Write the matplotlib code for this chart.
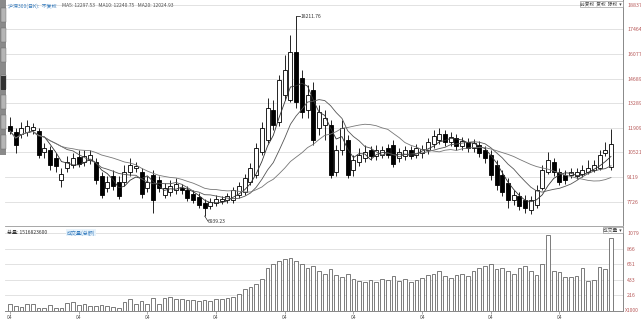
import matplotlib
matplotlib.use('Agg')
import matplotlib.pyplot as plt
import numpy as np
import pandas as pd

plt.rcParams['font.family'] = ['Noto Sans CJK SC', 'DejaVu Sans']

# daily prices
opens = [12013, 11674, 11561, 11674, 11787, 11731, 10546, 10659, 10208, 8967,
         9644, 9813, 10264, 9982, 10095, 9982, 9193, 8516, 9193, 8854,
         8854, 9418, 9644, 9418, 8516, 9249, 8967, 8121, 8290, 8403,
         8516, 8403, 8177, 8008, 7670, 7501, 7670, 7783, 7839, 7839,
         8121, 8290, 8854, 9249, 10546, 11223, 12915, 12238, 13761, 13479,
         16186, 14720, 12915, 14043, 11900, 12069, 12069, 9418, 10659, 11223,
         9531, 9982, 10208, 10659, 10321, 10377, 10772, 10941, 10208, 10321,
         10659, 10377, 10490, 10659, 10997, 11223, 11561, 11110, 11336, 10885,
         11110, 10772, 10941, 10659, 10377, 9813, 9249, 8798, 7839, 8065,
         7839, 7275, 7557, 8516, 9418, 9982, 9418, 9249, 9249, 9193,
         9305, 9418, 9531, 9644, 10490, 9700]
closes = [11731, 10941, 11900, 12013, 11956, 10377, 10772, 9813, 9757, 9305,
          9982, 10208, 9869, 10321, 10377, 8967, 8121, 8854, 8629, 8065,
          9418, 9813, 9757, 8177, 8854, 7839, 8516, 8516, 8629, 8741,
          8403, 7952, 7839, 7557, 7388, 7726, 7895, 7895, 8065, 8403,
          8629, 9080, 9644, 10772, 11900, 13028, 12069, 14607, 15171, 16186,
          13366, 12802, 13761, 11223, 12802, 12464, 9249, 10659, 11900, 9249,
          10095, 10377, 10546, 10321, 10659, 10659, 10377, 9869, 10546, 10659,
          10321, 10772, 10715, 11110, 11449, 11561, 11110, 11392, 10885, 11167,
          10772, 11054, 10490, 10208, 9249, 8685, 8290, 7839, 8121, 7501,
          7388, 7839, 8403, 9531, 10095, 9418, 8854, 8967, 9418, 9418,
          9531, 9644, 9813, 10377, 10659, 10997]
highs = [12520, 11900, 12238, 12351, 12182, 11900, 11054, 10885, 10490, 9644,
         10321, 10490, 10659, 10659, 10659, 10208, 9418, 9193, 9531, 9193,
         9813, 10208, 9982, 9644, 9193, 9531, 9193, 8798, 8967, 9080,
         8741, 8629, 8403, 8234, 7895, 7952, 8121, 8065, 8234, 8572,
         8854, 9305, 9926, 11054, 12238, 13592, 13479, 14889, 16017, 17145,
         18211.76, 15171, 14325, 14494, 13197, 12915, 12351, 10941, 12351, 11505,
         10377, 10772, 10941, 10885, 10941, 10885, 10997, 11223, 10772, 10885,
         10885, 10997, 10941, 11336, 11787, 11900, 11787, 11674, 11561, 11392,
         11336, 11279, 11167, 10885, 10659, 10095, 9531, 9080, 8403, 8290,
         8121, 8065, 8685, 9813, 10546, 10208, 9644, 9531, 9644, 9644,
         9813, 10095, 10095, 10659, 11110, 11843]
lows = [11561, 10490, 11336, 11449, 11561, 10208, 10208, 9531, 9418, 8572,
        9418, 9644, 9700, 9757, 9869, 8741, 7952, 8290, 8403, 7895,
        8629, 9193, 9418, 7952, 8290, 7106, 8290, 7952, 8065, 8177,
        8177, 7783, 7670, 7388, 6939.23, 7331, 7501, 7613, 7670, 7670,
        7952, 8121, 8685, 9080, 10377, 11054, 11787, 12013, 13479, 13366,
        13028, 12464, 12464, 10941, 11505, 11223, 9080, 9193, 10377, 9080,
        9193, 9757, 9982, 10095, 10095, 10208, 10208, 9700, 9982, 10095,
        10151, 10208, 10208, 10433, 10772, 10997, 10885, 10885, 10659, 10659,
        10546, 10546, 10264, 9926, 8967, 8403, 8065, 7388, 7557, 7275,
        7106, 7049, 7388, 8403, 9305, 9193, 8685, 8741, 9080, 9023,
        9136, 9305, 9418, 9531, 10321, 9531]
# volume, x1000
volumes = [95, 71, 57, 95, 95, 38, 38, 81, 38, 36,
           114, 123, 85, 95, 76, 71, 81, 66, 57, 47,
           128, 170, 95, 142, 104, 180, 104, 180, 194, 161,
           166, 151, 151, 142, 150, 140, 160, 170, 180, 200,
           240, 300, 330, 380, 450, 600, 650, 700, 720, 740,
           700, 650, 600, 620, 560, 520, 580, 500, 470, 520,
           450, 420, 400, 430, 410, 450, 430, 480, 420, 440,
           400, 430, 460, 500, 520, 550, 480, 460, 500, 520,
           480, 550, 600, 620, 650, 580, 600, 560, 520, 600,
           620, 560, 500, 650, 1060, 560, 544, 473, 473, 484,
           596, 412, 426, 615, 582, 1022]

price_ticks = [7726, 9119, 10521, 11909, 13289, 14689, 16077, 17464, 18837]
vol_ticks = [216, 433, 651, 866, 1079]
x_tick_pos = [0, 12, 24, 36, 48, 60, 72, 84, 96]
x_tick_labels = ['04'] * 9

df = pd.DataFrame({'open': opens, 'close': closes, 'high': highs, 'low': lows, 'vol': volumes})
x = np.arange(len(df))
ma5 = df['close'].rolling(5, min_periods=1).mean()
ma10 = df['close'].rolling(10, min_periods=1).mean()
ma20 = df['close'].rolling(20, min_periods=1).mean()

W, H = 641, 319
fig = plt.figure(figsize=(W / 100, H / 100), dpi=100)
ax = fig.add_axes([5 / W, 1 - 225 / H, 618 / W, 225 / H])
axv = fig.add_axes([5 / W, 1 - 311 / H, 618 / W, 84 / H], sharex=ax)

red = '#b85a5a'
grid = '#dddddd'

# candles
ax.vlines(x, df['low'], df['high'], color='black', lw=0.6, zorder=2)
up = df['close'] >= df['open']
body = (df['close'] - df['open']).abs().clip(lower=25)
bottom = df[['open', 'close']].min(axis=1)
ax.bar(x[up], body[up], bottom=bottom[up], width=0.7, facecolor='white',
       edgecolor='black', lw=0.6, zorder=3)
ax.bar(x[~up], body[~up], bottom=bottom[~up], width=0.7, facecolor='black',
       edgecolor='black', lw=0.6, zorder=3)
ax.plot(x, ma5, color='#333333', lw=0.6, zorder=4)
ax.plot(x, ma10, color='#555555', lw=0.6, zorder=4)
ax.plot(x, ma20, color='#777777', lw=0.6, zorder=4)

ih = int(np.argmax(df['high']))
ax.plot([ih, ih + 0.6], [df['high'][ih], df['high'][ih]], color='black', lw=0.5)
ax.text(ih + 0.7, df['high'][ih], '%.2f' % df['high'][ih], fontsize=3.6,
        va='center', ha='left', color='#333333')
il = int(np.argmin(df['low']))
ax.text(il + 0.6, df['low'][il] - 150, '%.2f' % df['low'][il], fontsize=3.6,
        va='top', ha='left', color='#333333')
ax.plot([il, il + 0.6], [df['low'][il], df['low'][il] - 300], color='black', lw=0.4)

ax.set_xlim(-0.87, 107.1)
ax.set_ylim(6429, 19119)
ax.yaxis.tick_right()
ax.set_yticks(price_ticks)
ax.set_yticklabels([str(v) for v in price_ticks])
ax.tick_params(axis='y', length=0, labelsize=3.8, labelcolor=red, pad=3)
ax.tick_params(axis='x', length=0, labelbottom=False)
ax.grid(axis='y', color=grid, lw=0.6)
ax.set_axisbelow(True)
for s in ['top', 'left', 'bottom']:
    ax.spines[s].set_visible(False)
ax.spines['right'].set_color('#888888')
ax.spines['right'].set_linewidth(0.7)

ax.text(0.005, 0.985, '沪深300(日K):  不复权', transform=ax.transAxes, fontsize=3.6,
        color='#3a7fc0', va='top', ha='left')
ax.text(0.093, 0.985, 'MA5: %.2f   MA10: %.2f   MA20: %.2f' % (12297.53, 12240.75, 12024.93),
        transform=ax.transAxes, fontsize=3.6, color='#555555', va='top', ha='left')

# volume
axv.bar(x, df['vol'], width=0.65, facecolor='white', edgecolor='#666666', lw=0.6)
axv.set_ylim(0, 1168)
axv.yaxis.tick_right()
axv.set_yticks(vol_ticks)
axv.set_yticklabels([str(v) for v in vol_ticks])
axv.tick_params(axis='y', length=0, labelsize=3.8, labelcolor=red, pad=3)
axv.set_xticks(x_tick_pos)
axv.set_xticklabels(x_tick_labels)
axv.tick_params(axis='x', length=2, width=0.5, color='#888888', labelsize=3.6,
                labelcolor='#555555', pad=1)
axv.grid(axis='y', color=grid, lw=0.6)
axv.set_axisbelow(True)
for s in ['top', 'left']:
    axv.spines[s].set_visible(False)
axv.spines['right'].set_color('#888888')
axv.spines['bottom'].set_color('#888888')
axv.spines['right'].set_linewidth(0.7)
axv.spines['bottom'].set_linewidth(0.7)
axv.text(1.003, 0.0, 'X1000', transform=axv.transAxes, fontsize=3.6, color=red,
         va='center', ha='left')
axv.text(0.003, 0.93, '总量: 1516823600', transform=axv.transAxes, fontsize=3.6,
         color='#333333', va='center', ha='left')
axv.text(0.1, 0.93, '成交量(总额)', transform=axv.transAxes, fontsize=3.6,
         color='#3a7fc0', va='center', ha='left',
         bbox=dict(facecolor='#e8f3fb', edgecolor='none', pad=0.5))

# panel separator and small widgets
fig.add_artist(plt.Line2D([5 / W, 623 / W], [1 - 226 / H, 1 - 226 / H], color='#999999', lw=0.6))
fig.add_artist(plt.Rectangle((0, 1 - 155 / H), 6 / W, 155 / H, facecolor='#8a8a8a',
                             edgecolor='none'))
for y0 in [8, 28, 48, 75, 95, 115, 135]:
    fig.add_artist(plt.Rectangle((0.5 / W, 1 - (y0 + 14) / H), 5 / W, 14 / H,
                                 facecolor='#b5b5b5', edgecolor='#666666', lw=0.3))
fig.add_artist(plt.Rectangle((0.5 / W, 1 - 90 / H), 5 / W, 14 / H, facecolor='#333333',
                             edgecolor='none'))
fig.text(622 / W, 1 - 4 / H, '前复权  复权  除权  ▾', fontsize=3.4, color='#444444',
         ha='right', va='center',
         bbox=dict(facecolor='white', edgecolor='#888888', lw=0.4, pad=0.6))
fig.text(622 / W, 1 - 230 / H, '成交量  ▾', fontsize=3.4, color='#444444',
         ha='right', va='center',
         bbox=dict(facecolor='white', edgecolor='#888888', lw=0.4, pad=0.6))

fig.savefig('out.png', dpi=100)
